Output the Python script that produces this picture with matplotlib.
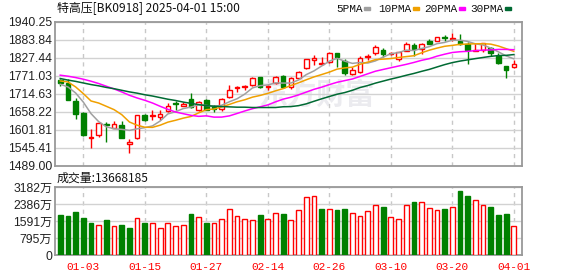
import matplotlib
matplotlib.use('Agg')
import matplotlib.pyplot as plt
from matplotlib.patches import Rectangle
import numpy as np
import pandas as pd

plt.rcParams['font.family'] = ['Liberation Sans', 'Noto Sans CJK SC', 'DejaVu Sans']

# trading days shown (Dec 30 .. Apr 1)
dates = ['12-30', '12-31',
         '01-02', '01-03', '01-06', '01-07', '01-08', '01-09', '01-10', '01-13', '01-14', '01-15',
         '01-16', '01-17', '01-20', '01-21', '01-22', '01-23', '01-24', '01-27',
         '02-05', '02-06', '02-07', '02-10', '02-11', '02-12', '02-13', '02-14', '02-17', '02-18',
         '02-19', '02-20', '02-21', '02-24', '02-25', '02-26', '02-27', '02-28',
         '03-03', '03-04', '03-05', '03-06', '03-07', '03-10', '03-11', '03-12', '03-13', '03-14',
         '03-17', '03-18', '03-19', '03-20', '03-21', '03-24', '03-25', '03-26', '03-27', '03-28',
         '03-31', '04-01']

open_ = [1756.6, 1748.0, 1690.5, 1653.6, 1576.0, 1583.4, 1618.0, 1607.6, 1617.0, 1557.0,
         1575.0, 1646.0, 1643.0, 1641.0, 1660.0, 1684.0, 1677.0, 1699.0, 1662.0, 1693.6,
         1676.0, 1666.0, 1704.0, 1731.0, 1735.0, 1741.0, 1766.0, 1734.0, 1748.0, 1770.0,
         1734.0, 1765.0, 1793.5, 1821.0, 1807.0, 1814.0, 1840.6, 1817.5, 1775.5, 1782.7,
         1828.0, 1840.6, 1853.0, 1838.0, 1822.0, 1849.0, 1866.0, 1853.3, 1881.0, 1880.5,
         1892.0, 1887.0, 1880.5, 1870.0, 1849.0, 1851.0, 1856.5, 1833.0, 1800.7, 1796.6]
close = [1748.0, 1696.0, 1652.0, 1583.4, 1580.0, 1622.0, 1615.0, 1620.0, 1575.0, 1564.0,
         1646.3, 1633.0, 1648.0, 1652.0, 1675.0, 1681.0, 1682.0, 1672.0, 1688.0, 1664.0,
         1667.0, 1699.0, 1727.0, 1735.0, 1737.0, 1764.0, 1735.0, 1738.0, 1767.0, 1734.0,
         1765.0, 1783.0, 1822.0, 1825.0, 1811.0, 1840.6, 1828.0, 1777.7, 1790.0, 1825.0,
         1832.0, 1861.5, 1837.6, 1842.0, 1844.0, 1869.7, 1855.0, 1870.0, 1871.0, 1891.0,
         1889.0, 1890.5, 1870.0, 1851.0, 1853.0, 1872.0, 1840.7, 1811.0, 1788.0, 1807.0]
high = [1759.8, 1759.8, 1702.0, 1656.8, 1605.0, 1625.0, 1625.0, 1628.5, 1628.0, 1573.0,
        1648.0, 1651.0, 1664.0, 1662.0, 1685.0, 1691.0, 1687.0, 1716.6, 1691.0, 1699.0,
        1679.0, 1701.0, 1741.0, 1738.0, 1741.0, 1766.0, 1768.0, 1741.0, 1769.0, 1774.0,
        1767.0, 1785.0, 1824.0, 1835.0, 1828.0, 1846.0, 1842.0, 1822.0, 1798.5, 1832.0,
        1838.5, 1866.0, 1857.0, 1845.0, 1846.0, 1877.0, 1874.0, 1874.0, 1885.7, 1893.0,
        1898.5, 1903.6, 1901.5, 1877.0, 1874.0, 1874.0, 1860.0, 1840.6, 1802.0, 1819.6]
low = [1737.7, 1693.6, 1636.0, 1583.0, 1544.6, 1578.0, 1564.0, 1607.0, 1574.0, 1528.8,
       1573.0, 1630.0, 1633.0, 1633.0, 1656.0, 1664.0, 1675.0, 1671.0, 1661.0, 1662.0,
       1657.0, 1660.0, 1700.0, 1721.0, 1725.0, 1739.0, 1733.0, 1727.0, 1746.0, 1732.0,
       1728.0, 1759.0, 1791.0, 1804.0, 1804.0, 1812.0, 1798.5, 1773.0, 1773.0, 1778.0,
       1821.6, 1835.0, 1829.0, 1836.0, 1818.0, 1847.0, 1832.0, 1838.5, 1869.0, 1879.0,
       1880.5, 1880.5, 1868.0, 1809.0, 1847.0, 1846.0, 1832.0, 1809.0, 1765.0, 1795.0]
volume = [18720000, 18250000, 20120000, 17320000, 14980000, 14040000, 16380000, 13570000,
          14040000, 12640000, 17160000, 14980000, 14820000, 12480000, 14820000, 13570000,
          14040000, 19190000, 17630000, 14980000, 14820000, 16690000, 21370000, 18100000,
          16850000, 16220000, 18720000, 16690000, 19500000, 19190000, 16220000, 20900000,
          26990000, 27610000, 21530000, 21370000, 21060000, 21530000, 19500000, 18250000,
          20440000, 23400000, 22460000, 17780000, 16690000, 23400000, 24800000, 24650000,
          21840000, 21060000, 21530000, 22460000, 29950000, 27610000, 25580000, 23400000,
          22460000, 18720000, 19190000, 13668185]

# MA values at the left edge, where the window reaches back before the first bar
ma5_head = [1744.0, 1735.6, 1716.6, 1688.0]
ma10_head = [1754.4, 1751.3, 1735.6, 1714.7, 1691.5, 1685.0, 1674.7, 1664.3, 1648.6]
ma20_head = [1772.4, 1769.2, 1765.0, 1759.8, 1753.5, 1746.2, 1737.7, 1729.3, 1719.8, 1709.4,
             1700.9, 1693.6, 1685.1, 1674.7, 1665.2, 1656.8, 1651.6, 1646.4, 1643.2]
ma30_head = [1762, 1757, 1753, 1748, 1743, 1739, 1734, 1730, 1725, 1720, 1716, 1711, 1707,
             1702, 1697, 1693, 1688, 1684, 1680, 1677, 1675, 1674, 1673, 1672, 1672, 1671,
             1671, 1671, 1671]

RED = '#ff0000'
GREEN = '#008000'
ma_colors = {5: '#a0a0a0', 10: '#f0a000', 20: '#ff00ff', 30: '#006a33'}
heads = {5: ma5_head, 10: ma10_head, 20: ma20_head, 30: ma30_head}

o = np.array(open_)
c = np.array(close)
h = np.array(high)
l = np.array(low)
v = np.array(volume) / 1e4
x = np.arange(len(c))

W, H = 578, 276
fig = plt.figure(figsize=(W / 100, H / 100), dpi=100)


def px_axes(left, top, right, bottom):
    return fig.add_axes([left / W, 1 - bottom / H, (right - left) / W, (bottom - top) / H])


ax = px_axes(55, 21.7, 522.3, 165.5)
axv = px_axes(55, 187, 522.3, 255)

for a in (ax, axv):
    a.set_xlim(-0.68, 60.1)
    a.set_xticks(range(3, len(x), 8))
    a.grid(axis='x', color='#c8c8c8', lw=1, ls=(0, (3, 3)))
    a.grid(axis='y', color='#d2d2d2', lw=1)
    a.set_axisbelow(True)
    for s in a.spines.values():
        s.set_color('#999999')
        s.set_linewidth(1.3)
    a.tick_params(length=0, pad=2, labelsize=8.7, labelcolor='#222222')

# watermark
ax.text(0.56, 0.49, '东方财富', transform=ax.transAxes, ha='center', va='center',
        fontsize=21, fontweight='bold', color='#ebebef', family=['Noto Sans CJK SC'], zorder=0)

# candles
up = c >= o
cols = np.where(up, RED, GREEN)
ax.vlines(x, l, h, colors=cols, lw=1, zorder=3)
ax.bar(x, np.maximum(np.abs(c - o), 1.2), bottom=np.minimum(o, c), width=0.6,
       color=np.where(up, 'white', GREEN), edgecolor=cols, lw=1, zorder=4)

cs = pd.Series(c)
for n in (5, 10, 20, 30):
    ma = cs.rolling(n).mean().to_numpy()
    ma[:n - 1] = heads[n]
    ax.plot(x, ma, color=ma_colors[n], lw=1.1, zorder=5)

pt = np.linspace(1489.0, 1940.25, 9)
ax.set_ylim(pt[0], pt[-1])
ax.set_yticks(pt)
ax.set_yticklabels(['%.2f' % (t + 1e-6) for t in pt])
ax.tick_params(axis='x', labelbottom=False)

# volume, coloured by change from previous close
prev = np.r_[o[0], c[:-1]]
vup = c >= prev
axv.bar(x, v, width=0.62, color=np.where(vup, 'white', GREEN),
        edgecolor=np.where(vup, RED, GREEN), lw=1, zorder=3)
vtop = 3182
axv.set_ylim(0, vtop)
vt = np.linspace(0, vtop, 5)
axv.set_yticks(vt)
axv.set_yticklabels(['0'] + ['%d万' % int(t) for t in vt[1:]])
axv.set_xticklabels([dates[i] for i in range(3, len(x), 8)], color=RED,
                    family=['Liberation Mono'], fontsize=8)
axv.tick_params(axis='x', pad=5)

fig.text(57 / W, 1 - 8.5 / H, '特高压[BK0918] 2025-04-01 15:00', ha='left', va='center',
         fontsize=8.6, family=['Noto Sans CJK SC', 'DejaVu Sans'], color='#111111')
fig.text(57 / W, 1 - 178 / H, '成交量:%d' % volume[-1], ha='left', va='center',
         fontsize=8.6, family=['Noto Sans CJK SC', 'DejaVu Sans'], color='#111111')

# legend across the top right
for lx, n in ((336, 5), (378, 10), (424, 20), (470, 30)):
    fig.text(lx / W, 1 - 8.5 / H, '%dPMA' % n, ha='left', va='center', fontsize=8,
             family=['Liberation Mono'], color='#111111')
for mx, n in ((364, 5), (413, 10), (459, 20), (505, 30)):
    fig.add_artist(Rectangle((mx / W, 1 - 10 / H), 6 / W, 3 / H, transform=fig.transFigure,
                             color=ma_colors[n]))

fig.savefig('out.png', dpi=100)
